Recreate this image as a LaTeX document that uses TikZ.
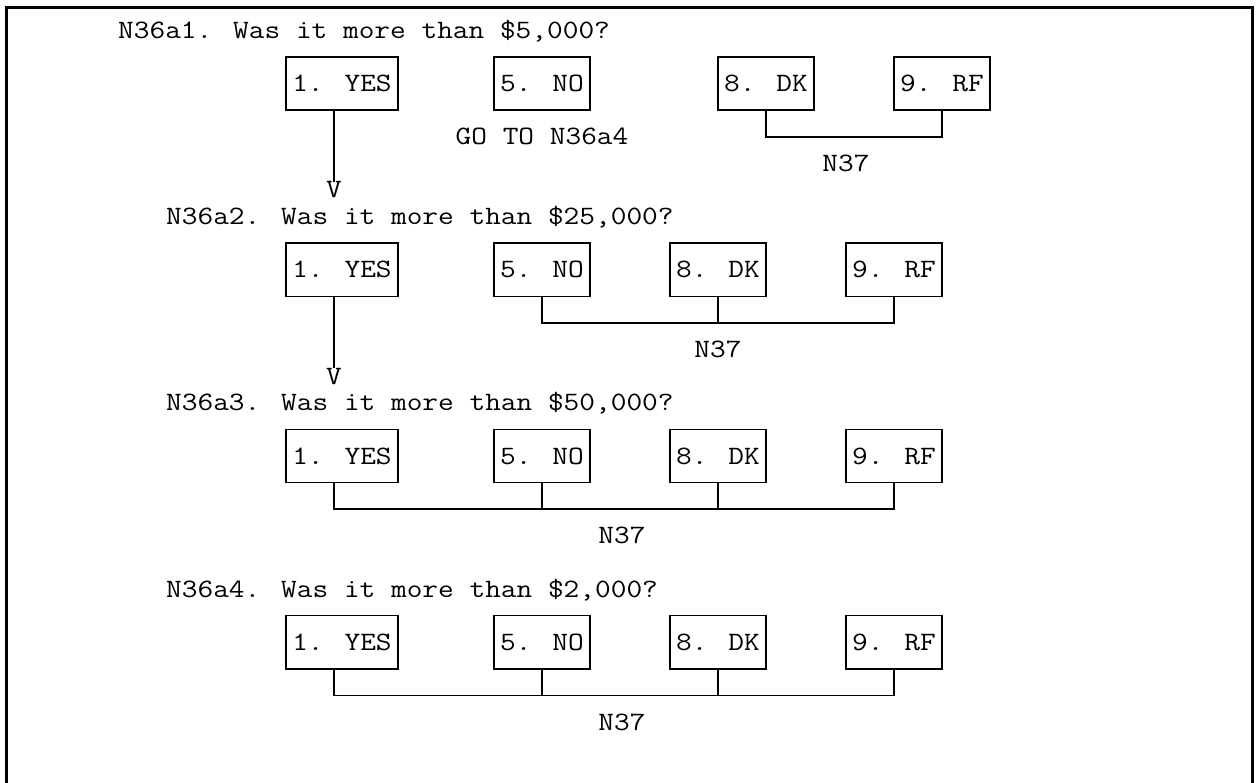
\documentclass[tikz,border=0pt]{standalone}
\usepackage{fontspec}
\newfontfamily\qfont[FakeStretch=1.15]{Latin Modern Mono}
\usetikzlibrary{positioning}
\tikzset{
  qtext/.style={font=\qfont\fontsize{26.5}{32}\selectfont, inner sep=0pt,
    text height=16pt, text depth=0pt},
  answer/.style={qtext, draw=black, line width=1.6pt, minimum height=53.2pt,
    minimum width=96pt},
  wideanswer/.style={answer, minimum width=112pt},
  question/.style={qtext, anchor=west},
  link/.style={draw=black, line width=1.6pt},
  frameline/.style={draw=black, line width=3pt}
}

\begin{document}
\begin{tikzpicture}[x=1pt, y=-1pt]
  \clip (0,0) rectangle (1257,783);
  \draw[frameline] (6,800) -- (6,7.5) -- (1252.5,7.5) -- (1252.5,800);

  % N36a1
  \node[question] (q1) at (118,30.4) {N36a1. Was it more than \$5,000?};
  \node[wideanswer] (yes1) at (342,83.6) {1. YES};
  \node[answer] (no1) at (542,83.6) {5. NO};
  \node[answer] (dk1) at (766,83.6) {8. DK};
  \node[answer] (rf1) at (942,83.6) {9. RF};
  \node[qtext] (go1) at (542,136.8) {GO TO N36a4};
  \node[qtext] (nx1) at (846,163.4) {N37};
  \node[qtext] (v1) at (334,190) {V};

  % N36a2
  \node[question] (q2) at (166,216.6) {N36a2. Was it more than \$25,000?};
  \node[wideanswer] (yes2) at (342,269.8) {1. YES};
  \node[answer] (no2) at (542,269.8) {5. NO};
  \node[answer] (dk2) at (718,269.8) {8. DK};
  \node[answer] (rf2) at (894,269.8) {9. RF};
  \node[qtext] (nx2) at (718,349.6) {N37};
  \node[qtext] (v2) at (334,376.2) {V};

  % N36a3
  \node[question] (q3) at (166,402.8) {N36a3. Was it more than \$50,000?};
  \node[wideanswer] (yes3) at (342,456) {1. YES};
  \node[answer] (no3) at (542,456) {5. NO};
  \node[answer] (dk3) at (718,456) {8. DK};
  \node[answer] (rf3) at (894,456) {9. RF};
  \node[qtext] (nx3) at (622,535.8) {N37};

  % N36a4
  \node[question] (q4) at (166,589) {N36a4. Was it more than \$2,000?};
  \node[wideanswer] (yes4) at (342,642.2) {1. YES};
  \node[answer] (no4) at (542,642.2) {5. NO};
  \node[answer] (dk4) at (718,642.2) {8. DK};
  \node[answer] (rf4) at (894,642.2) {9. RF};
  \node[qtext] (nx4) at (622,722) {N37};

  \coordinate (j1) at (846,136.8);
  \coordinate (j2) at (718,323);
  \coordinate (j3) at (622,509.2);
  \coordinate (j4) at (622,695.4);

  \draw[link] (v1.north |- yes1.south) -- (v1.north);
  \draw[link] (dk1.south) |- (j1) -| (rf1.south);

  \draw[link] (v2.north |- yes2.south) -- (v2.north);
  \draw[link] (no2.south) |- (j2) -| (rf2.south);
  \draw[link] (dk2.south) -- (dk2.south |- j2);

  \draw[link] (v2.north |- yes3.south) |- (j3) -| (rf3.south);
  \draw[link] (no3.south) -- (no3.south |- j3);
  \draw[link] (dk3.south) -- (dk3.south |- j3);

  \draw[link] (v2.north |- yes4.south) |- (j4) -| (rf4.south);
  \draw[link] (no4.south) -- (no4.south |- j4);
  \draw[link] (dk4.south) -- (dk4.south |- j4);
\end{tikzpicture}
\end{document}
